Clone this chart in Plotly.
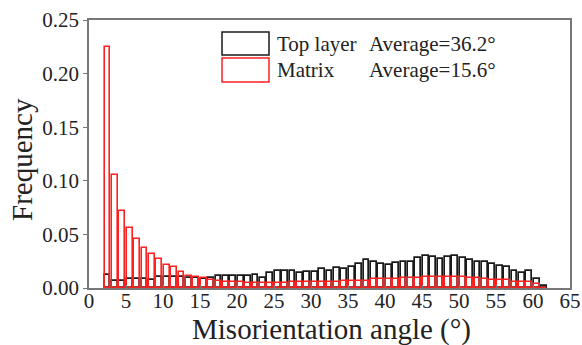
import plotly.graph_objects as go

# bin centers (1-degree bins from 2 to 62)
angles = [k + 0.5 for k in range(2, 62)]

top_layer = [
    0.0118, 0.0065, 0.0065, 0.0080, 0.0080, 0.0080, 0.0075, 0.0100, 0.0100,  # 2-10
    0.0098, 0.0098, 0.0097, 0.0093, 0.0085, 0.0095, 0.0110, 0.0112, 0.0112,  # 11-19
    0.0110, 0.0110, 0.0120, 0.0095, 0.0142, 0.0160, 0.0160, 0.0160, 0.0136,  # 20-28
    0.0152, 0.0152, 0.0173, 0.0160, 0.0183, 0.0177, 0.0195, 0.0220, 0.0257,  # 29-37
    0.0239, 0.0220, 0.0214, 0.0230, 0.0245, 0.0245, 0.0276, 0.0297, 0.0290,  # 38-46
    0.0270, 0.0290, 0.0297, 0.0276, 0.0260, 0.0239, 0.0239, 0.0220, 0.0207,  # 47-55
    0.0200, 0.0155, 0.0142, 0.0160, 0.0081, 0.0020,                          # 56-61
]

matrix = [
    0.2250, 0.1050, 0.0716, 0.0564, 0.0458, 0.0369, 0.0316, 0.0267, 0.0214,  # 2-10
    0.0195, 0.0146, 0.0115, 0.0102, 0.0090, 0.0075, 0.0062, 0.0060, 0.0055,  # 11-19
    0.0052, 0.0050, 0.0050, 0.0045, 0.0045, 0.0045, 0.0045, 0.0055, 0.0055,  # 20-28
    0.0055, 0.0055, 0.0058, 0.0058, 0.0058, 0.0065, 0.0065, 0.0068, 0.0068,  # 29-37
    0.0080, 0.0080, 0.0080, 0.0082, 0.0095, 0.0097, 0.0097, 0.0105, 0.0105,  # 38-46
    0.0105, 0.0105, 0.0105, 0.0105, 0.0090, 0.0090, 0.0088, 0.0075, 0.0075,  # 47-55
    0.0072, 0.0060, 0.0060, 0.0058, 0.0035, 0.0000,                          # 56-61
]

x_ticks = list(range(0, 70, 5))
y_ticks = [0.00, 0.05, 0.10, 0.15, 0.20, 0.25]
y_tick_text = ["0.00", "0.05", "0.10", "0.15", "0.20", "0.25"]

legend_names = ["Top layer", "Matrix"]
legend_avgs = ["Average=36.2°", "Average=15.6°"]
colors = ["#1a1a1a", "#ff2020"]
x_title = "Misorientation angle (°)"
y_title = "Frequency"

FONT = "Liberation Serif"
L, R, T, B = 89, 570, 20, 288
W, H = 582, 345

fig = go.Figure()
fig.add_trace(go.Bar(
    x=angles, y=top_layer, width=0.8, name=legend_names[0],
    marker=dict(color="rgba(0,0,0,0)", line=dict(color=colors[0], width=1.7)),
))
fig.add_trace(go.Bar(
    x=angles, y=matrix, width=0.8, name=legend_names[1],
    marker=dict(color="rgba(0,0,0,0)", line=dict(color=colors[1], width=1.6)),
))

axis_common = dict(
    showline=True, linecolor="#777777", linewidth=1.5, mirror=True,
    showgrid=False, zeroline=False, automargin=False,
    tickcolor="#777777", tickwidth=1.2,
    tickfont=dict(family=FONT, size=21, color="#222222"),
)

fig.update_layout(
    width=W, height=H,
    margin=dict(l=L, r=W - R, t=T, b=H - B),
    paper_bgcolor="white", plot_bgcolor="white",
    barmode="overlay", bargap=0, showlegend=False,
    font=dict(family=FONT, color="#222222"),
    xaxis=dict(range=[0, 65], tickvals=x_ticks, ticks="inside", ticklen=3,
               ticklabelstandoff=-7, **axis_common),
    yaxis=dict(range=[0, 0.25], tickvals=y_ticks, ticktext=y_tick_text,
               ticks="outside", ticklen=4, **axis_common),
)

# axis titles as paper annotations
fig.add_annotation(xref="paper", yref="paper",
                   x=((W / 2 + 40) - L) / (R - L), y=(B - 329) / (B - T),
                   text=x_title, showarrow=False, xanchor="center", yanchor="middle",
                   font=dict(family=FONT, size=29, color="#222222"))
fig.add_annotation(xref="paper", yref="paper",
                   x=(22 - L) / (R - L), y=(B - 160) / (B - T),
                   text=y_title, showarrow=False, xanchor="center", yanchor="middle",
                   textangle=-90, font=dict(family=FONT, size=29, color="#222222"))

# legend drawn as boxes + text in the upper part of the plot
box_x0, box_x1 = 222, 269
rows_y = [(32, 55), (58, 82)]
for i, (y0, y1) in enumerate(rows_y):
    fig.add_shape(type="rect", xref="paper", yref="paper",
                  x0=(box_x0 - L) / (R - L), x1=(box_x1 - L) / (R - L),
                  y0=(B - y1) / (B - T), y1=(B - y0) / (B - T),
                  line=dict(color=colors[i], width=1.5), fillcolor="rgba(0,0,0,0)")
    yc = (B - (y0 + y1) / 2) / (B - T)
    fig.add_annotation(xref="paper", yref="paper", x=(275 - L) / (R - L), y=yc,
                       text=legend_names[i], showarrow=False, xanchor="left", yanchor="middle",
                       font=dict(family=FONT, size=21, color="#222222"))
    fig.add_annotation(xref="paper", yref="paper", x=(367 - L) / (R - L), y=yc,
                       text=legend_avgs[i], showarrow=False, xanchor="left", yanchor="middle",
                       font=dict(family=FONT, size=21, color="#222222"))

fig.write_html("out.html")
